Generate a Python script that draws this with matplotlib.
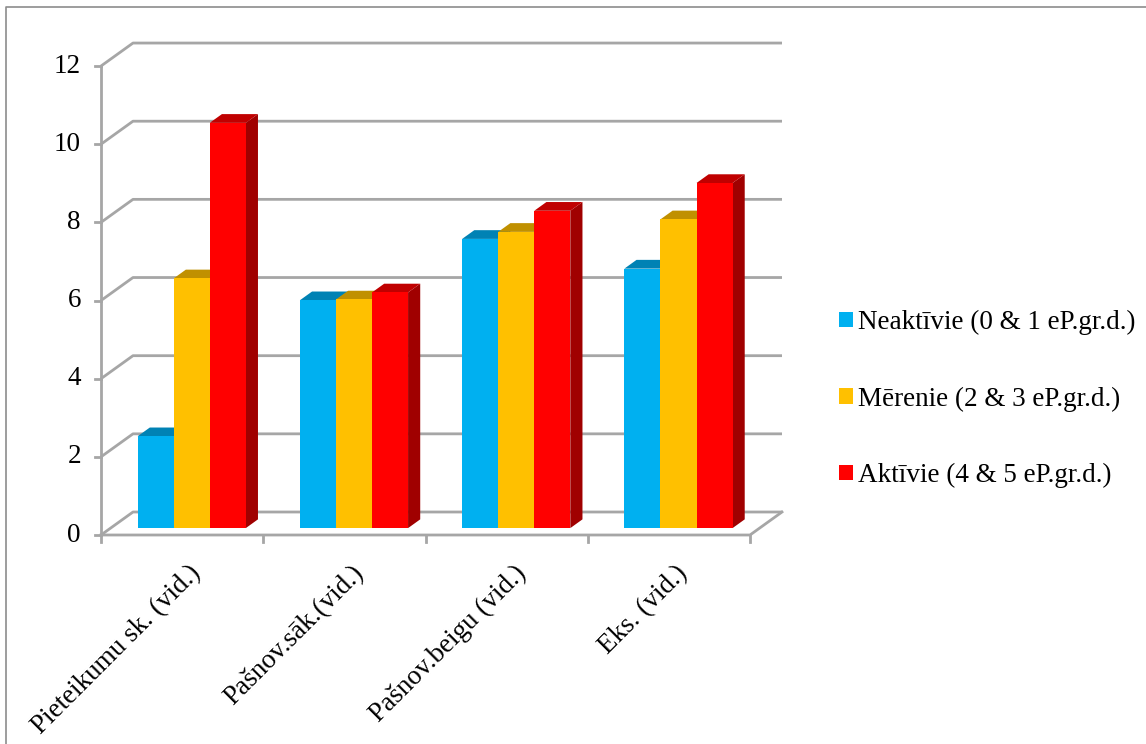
import matplotlib.pyplot as plt
from matplotlib.patches import Polygon
from matplotlib.lines import Line2D

categories = ['Pieteikumu sk. (vid.)', 'Pašnov.sāk.(vid.)', 'Pašnov.beigu (vid.)', 'Eks. (vid.)']
series_names = ['Neaktīvie (0 & 1 eP.gr.d.)', 'Mērenie (2 & 3 eP.gr.d.)', 'Aktīvie (4 & 5 eP.gr.d.)']
neaktivie = [2.35, 5.83, 7.40, 6.64]
merenie = [6.39, 5.85, 7.58, 7.90]
aktivie = [10.37, 6.03, 8.12, 8.83]
y_ticks = [0, 2, 4, 6, 8, 10, 12]

values = [neaktivie, merenie, aktivie]
front = ['#00B0F0', '#FFC000', '#FF0000']
top = ['#0082B4', '#C09000', '#C00000']
side = ['#0070A0', '#A07800', '#A00000']
grid_c = '#A6A6A6'
FS = 19.5

W, H = 1146, 744
fig = plt.figure(figsize=(W / 100, H / 100), dpi=100)
ax = fig.add_axes([0, 0, 1, 1])
# pixel mapping: x=101 -> 0, 162.25 px per category; y=535 -> 0, 39.08 px per unit
px_x, px_y = 162.25, 39.08
x0, y0 = 101, 535
ax.set_xlim(-x0 / px_x, (W - x0) / px_x)
ax.set_ylim(-(H - y0) / px_y, y0 / px_y)
ax.axis('off')

# depth offset of the back wall (data units)
DX, DY = 32 / px_x, 23 / px_y
n = len(categories)

# chart border
ax.add_line(Line2D([-95 / px_x, -95 / px_x, 20], [-20, 528 / px_y, 528 / px_y],
                   color='#8C8C8C', lw=1.2))

# back wall gridlines + left wall diagonals
for t in y_ticks:
    ax.plot([0, DX, n + DX], [t, t + DY, t + DY], color=grid_c, lw=2, solid_capstyle='butt')
    ax.plot([-6 / px_x, 0], [t, t], color=grid_c, lw=2)
    ax.text(-20 / px_x, t, str(t), ha='right', va='center', fontsize=FS,
            family='Liberation Serif')
# front vertical axis
ax.plot([0, 0], [0, 12], color=grid_c, lw=2)
# floor
ax.plot([0, n, n + DX], [0, 0, DY], color=grid_c, lw=2)
for i in range(n + 1):
    ax.plot([i, i], [0, -7 / px_y], color=grid_c, lw=2)

# bars
w = 1 / 4.5
d0, d1 = 0.3, 0.68
for i in range(n):
    for s in range(3):
        v = values[s][i]
        xl = i + 0.5 - 1.5 * w + s * w + d0 * DX
        xr = xl + w
        yb = d0 * DY
        ddx, ddy = (d1 - d0) * DX, (d1 - d0) * DY
        # side face
        ax.add_patch(Polygon([(xr, yb), (xr + ddx, yb + ddy), (xr + ddx, v + yb + ddy), (xr, v + yb)],
                             closed=True, fc=side[s], ec='none', zorder=3 + s))
        # top face
        ax.add_patch(Polygon([(xl, v + yb), (xr, v + yb), (xr + ddx, v + yb + ddy), (xl + ddx, v + yb + ddy)],
                             closed=True, fc=top[s], ec='none', zorder=3 + s))
        # front face
        ax.add_patch(Polygon([(xl, yb), (xr, yb), (xr, v + yb), (xl, v + yb)],
                             closed=True, fc=front[s], ec='none', zorder=3 + s))

# category labels
for i, c in enumerate(categories):
    ax.text(i + 0.54, -26 / px_y, c, rotation=45, ha='right', va='top',
            rotation_mode='anchor', fontsize=FS, family='Liberation Serif')

# legend
handles = [Polygon([(0, 0)], fc=front[s], ec='none') for s in range(3)]
fig.legend(handles, series_names, loc='center left', bbox_to_anchor=(815 / W, 1 - 399 / H),
           frameon=False, prop={'family': 'Liberation Serif', 'size': FS},
           handlelength=0.5, handleheight=0.5, handletextpad=0.2, labelspacing=1.9)

fig.savefig('out.png', dpi=100)
